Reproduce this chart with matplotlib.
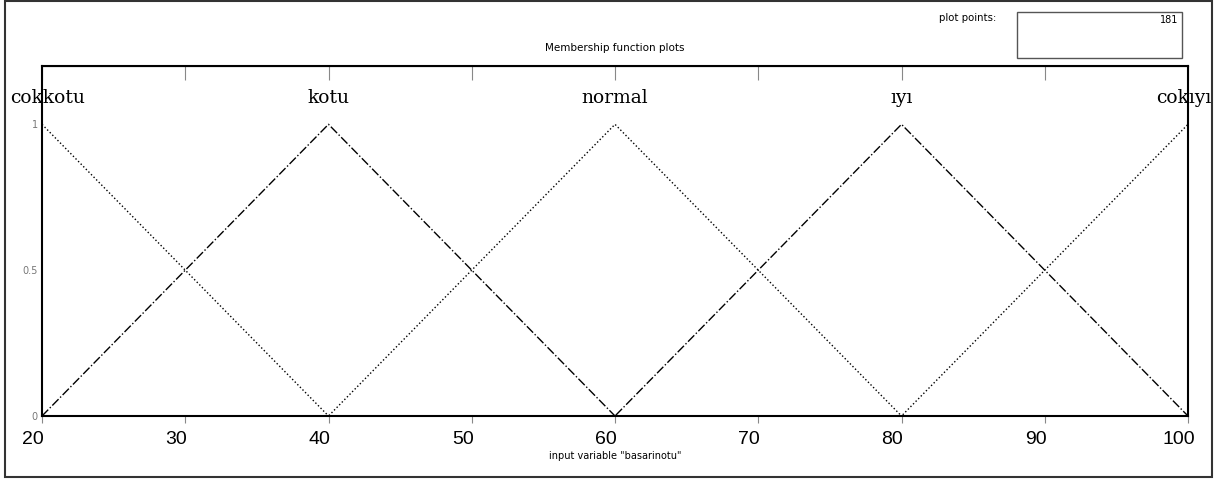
import numpy as np
import matplotlib.pyplot as plt
from matplotlib.patches import Rectangle
from matplotlib.transforms import ScaledTranslation

# membership functions (triangles) of the input variable
mf_names = ["cokkotu", "kotu", "normal", "ıyı", "cokıyı"]
mf_params = [[0, 20, 40], [20, 40, 60], [40, 60, 80], [60, 80, 100], [80, 100, 120]]
mf_styles = [":", "-.", ":", "-.", ":"]
x_range = [20, 100]
x_ticks = [20, 30, 40, 50, 60, 70, 80, 90, 100]
y_ticks = [0, 0.5, 1]
y_ticklabels = ["0", "0.5", "1"]
plot_points = 181
var_name = "basarinotu"


def trimf(x, p):
    a, b, c = p
    left = (x - a) / (b - a)
    right = (c - x) / (c - b)
    return np.clip(np.minimum(left, right), 0, 1)


fig = plt.figure(figsize=(12.17, 4.8), dpi=100)
fig.patches.append(Rectangle((5 / 1217, 3 / 480), 1207 / 1217, 476 / 480,
                             transform=fig.transFigure, fill=False,
                             edgecolor="#333333", linewidth=1.5))

ax = fig.add_axes([42 / 1217, 64 / 480, 1146 / 1217, 350 / 480])

x = np.linspace(x_range[0], x_range[1], plot_points)
for name, p, ls in zip(mf_names, mf_params, mf_styles):
    ax.plot(x, trimf(x, p), color="black", linestyle=ls, linewidth=1.0)

# mf labels above the peaks
lab_font = dict(family="DejaVu Serif", fontsize=13.5)
for i, (name, p) in enumerate(zip(mf_names, mf_params)):
    peak = p[1]
    if i == 0:
        ax.text(peak - 2.25, 1.09, name, ha="left", va="center", clip_on=False, **lab_font)
    elif i == len(mf_names) - 1:
        ax.text(peak + 1.65, 1.09, name, ha="right", va="center", clip_on=False, **lab_font)
    else:
        ax.text(peak, 1.09, name, ha="center", va="center", **lab_font)

ax.set_xlim(x_range)
ax.set_ylim(0, 1.2)
ax.set_xticks(x_ticks)
ax.set_xticklabels([str(t) for t in x_ticks], family="Liberation Sans", fontsize=14)
ax.tick_params(axis="x", direction="out", length=5, width=0.8, color="#888888", pad=6)
for lab in ax.get_xticklabels():
    lab.set_transform(lab.get_transform() + ScaledTranslation(-0.09, 0, fig.dpi_scale_trans))
ax.set_yticks(y_ticks)
ax.set_yticklabels(y_ticklabels, fontsize=7, color="#777777")
ax.tick_params(axis="y", length=0, pad=3)
for s in ax.spines.values():
    s.set_linewidth(1.5)

top = ax.secondary_xaxis("top")
top.set_xticks(x_ticks)
top.tick_params(direction="in", length=10, width=0.8, color="#888888", labeltop=False)

ax.set_xlabel('input variable "%s"' % var_name, fontsize=7, labelpad=2)
fig.text(615 / 1217, 1 - 48 / 480, "Membership function plots", ha="center",
         va="center", fontsize=7.5)

# plot points box
fig.text(996 / 1217, 1 - 18 / 480, "plot points:", ha="right", va="center", fontsize=7.3)
fig.patches.append(Rectangle((1017 / 1217, 1 - 58 / 480), 165 / 1217, 46 / 480,
                             transform=fig.transFigure, fill=False,
                             edgecolor="#555555", linewidth=1.0))
fig.text(1178 / 1217, 1 - 20 / 480, str(plot_points), ha="right", va="center", fontsize=7)

fig.savefig("out.png", dpi=100)
